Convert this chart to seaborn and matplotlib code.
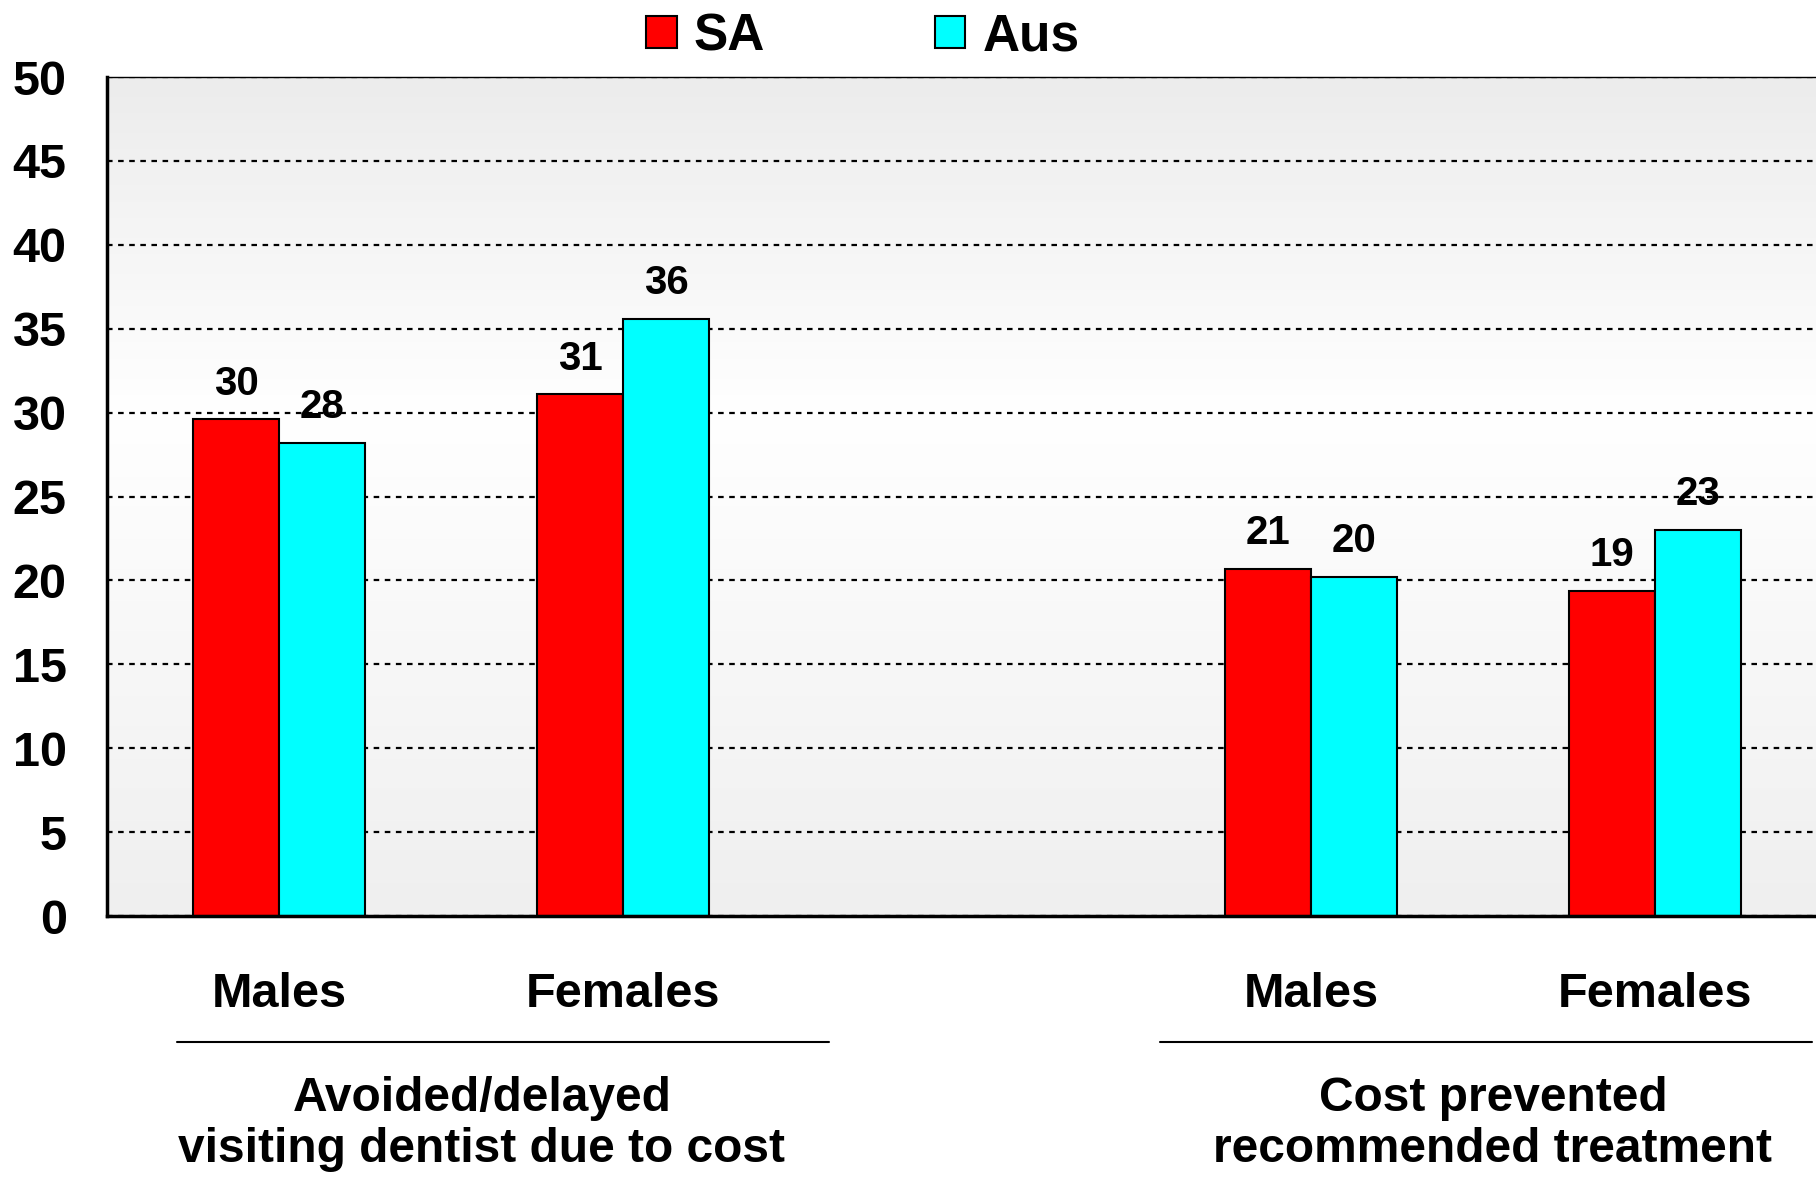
import numpy as np
import pandas as pd
import matplotlib
matplotlib.use('Agg')
import matplotlib.pyplot as plt
from matplotlib.colors import LinearSegmentedColormap
import seaborn as sns

# data
slots = ['m1', 'f1', 'gap', 'm2', 'f2']
slot_labels = ['Males', 'Females', '', 'Males', 'Females']
bar_slots = ['m1', 'f1', 'm2', 'f2']
sa = [29.6, 31.1, 20.7, 19.4]
aus = [28.2, 35.6, 20.2, 23.0]
series = ['SA', 'Aus']
colours = ['#ff0000', '#00ffff']
group_titles = ['Avoided/delayed\nvisiting dentist due to cost',
                'Cost prevented\nrecommended treatment']
y_ticks = list(range(0, 51, 5))

df = pd.DataFrame({
    'slot': bar_slots * 2,
    'series': ['SA'] * 4 + ['Aus'] * 4,
    'value': sa + aus,
})

sns.set_style('white')
plt.rcParams['font.family'] = ['Liberation Sans', 'DejaVu Sans']
plt.rcParams['font.weight'] = 'bold'
plt.rcParams['text.color'] = 'black'
plt.rcParams['xtick.color'] = 'black'
plt.rcParams['ytick.color'] = 'black'

fig = plt.figure(figsize=(18.16, 11.8), dpi=100)
ax = fig.add_axes([0.0589, 0.2237, 0.9411, 0.7110])

# soft vertical gradient behind the plot
grad = LinearSegmentedColormap.from_list('bg', [(0, '#efefef'), (0.6, '#ffffff'), (1, '#ececec')])
ax.imshow(np.linspace(0, 1, 256).reshape(-1, 1)[::-1], extent=[0, 1, 0, 1],
          transform=ax.transAxes, aspect='auto', cmap=grad, zorder=0)

sns.barplot(data=df, x='slot', y='value', hue='series', order=slots,
            hue_order=series, palette=colours, width=0.5, saturation=1,
            edgecolor='black', linewidth=1.5, ax=ax, zorder=2)

for cont in ax.containers:
    ax.bar_label(cont, fmt=lambda v: f'{v:.0f}', padding=12, fontsize=29,
                 fontweight='bold', color='black')

ax.set_xlim(-0.5, 4.468)
ax.set_ylim(0, 50)
ax.set_yticks(y_ticks)
ax.set_xticks(range(len(slots)))
ax.set_xticklabels(slot_labels)
ax.tick_params(axis='y', length=0, pad=29, labelsize=35)
ax.tick_params(axis='x', length=0, pad=40, labelsize=35)
ax.set_xlabel('')
ax.set_ylabel('')

ax.set_axisbelow(True)
ax.yaxis.grid(True, color='black', linestyle=(0, (2.5, 2.5)), linewidth=1.6, zorder=1)
ax.xaxis.grid(False)
for s in ['left', 'bottom']:
    ax.spines[s].set_color('black')
    ax.spines[s].set_linewidth(2.5)
ax.spines['top'].set_color('black')
ax.spines['top'].set_linewidth(1)
ax.spines['right'].set_visible(False)

# group brackets under the category labels
trans = ax.get_xaxis_transform()
for (x0, x1, xc), title in zip([(-0.296, 1.599, 0.59), (2.562, 4.455, 3.529)], group_titles):
    ax.plot([x0, x1], [-0.150, -0.150], color='black', linewidth=1.5,
            transform=trans, clip_on=False)
    ax.text(xc, -0.248, title, transform=trans, ha='center', va='center',
            fontsize=34.5, fontweight='bold', linespacing=1.17, color='black')

handles, labels = ax.get_legend_handles_labels()
ax.legend(handles, labels, ncol=2, loc='center', bbox_to_anchor=(0.475, 0.969),
          bbox_transform=fig.transFigure, frameon=False,
          prop={'size': 37, 'weight': 'bold'}, handlelength=0.6,
          handleheight=0.6, handletextpad=0.33, columnspacing=3.3,
          borderaxespad=0)

fig.savefig('out.png', dpi=100)
